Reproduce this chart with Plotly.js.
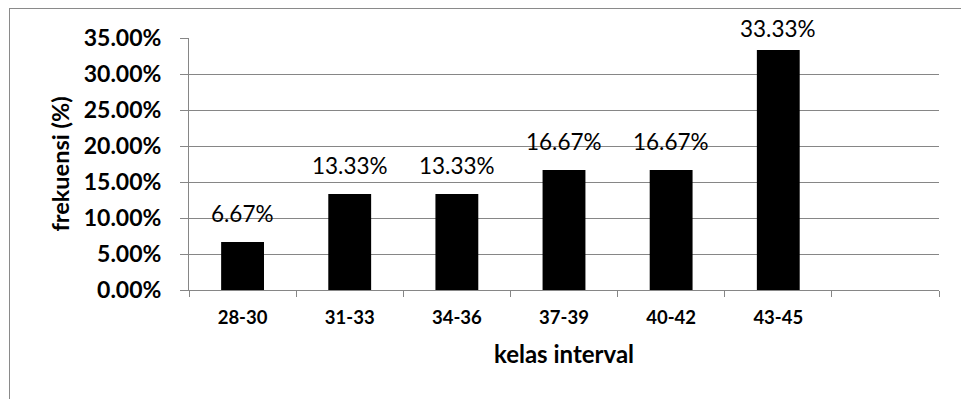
<!DOCTYPE html>
<html>
<head>
<meta charset="utf-8">
<script src="https://cdn.plot.ly/plotly-3.0.1.min.js"></script>
<style>
  html, body { margin: 0; padding: 0; background: #ffffff; overflow: hidden; }
  #wrap { position: relative; width: 961px; height: 399px; overflow: hidden; }
  #chart { position: absolute; left: 0; top: 0; width: 961px; height: 399px; }
  /* chart-area frame, running off the right and bottom edges */
  #frame { position: absolute; left: 9px; top: 8px; width: 1100px; height: 600px;
           border: 1px solid #8a8a8a; pointer-events: none; }
</style>
</head>
<body>
<div id="wrap">
  <div id="chart"></div>
  <div id="frame"></div>
</div>
<script>
// class intervals; the trailing blank slot stays empty on the axis
const categories = ['28-30', '31-33', '34-36', '37-39', '40-42', '43-45', ' '];
// relative frequency of each class (fraction)
const frequency = [0.0667, 0.1333, 0.1333, 0.1667, 0.1667, 0.3333, null];
const labels = ['6.67%', '13.33%', '13.33%', '16.67%', '16.67%', '33.33%', ''];

const yTop = 0.35;
const plotTopPx = 38, plotBottomPx = 290;
const pxPerUnit = (plotBottomPx - plotTopPx) / yTop;

const annotations = [];
categories.forEach((c, i) => {
  const v = frequency[i];
  if (v === null) return;
  // keep the label inside the chart frame when the bar is tall
  const room = (yTop - v) * pxPerUnit + plotTopPx - 40;
  const shift = Math.min(17, room);
  annotations.push({
    x: c, y: v, xref: 'x', yref: 'y',
    text: labels[i], showarrow: false,
    yanchor: 'bottom', yshift: shift - 4,
    font: { family: 'Lato, sans-serif', size: 22.5, color: '#000000' }
  });
});

const trace = {
  type: 'bar',
  x: categories,
  y: frequency,
  marker: { color: '#000000', line: { width: 0 } },
  hoverinfo: 'skip'
};

const layout = {
  width: 961, height: 399,
  margin: { l: 189, r: 22, t: 38, b: 109 },
  paper_bgcolor: '#ffffff', plot_bgcolor: '#ffffff',
  showlegend: false,
  bargap: 0.6,
  font: { family: 'Lato, sans-serif', color: '#000000' },
  xaxis: {
    type: 'category',
    range: [-0.5, 6.5],
    tickson: 'boundaries',
    ticks: 'outside', ticklen: 6, tickcolor: '#868686', tickwidth: 1,
    showline: true, linecolor: '#868686', linewidth: 1,
    showgrid: false, zeroline: false,
    ticklabelstandoff: 11,
    tickfont: { family: 'Lato, sans-serif', size: 18.5, color: '#000000', weight: 'bold' },
    title: { text: 'kelas interval', standoff: 18,
             font: { family: 'Lato, sans-serif', size: 24, color: '#000000', weight: 'bold' } }
  },
  yaxis: {
    range: [0, yTop],
    dtick: 0.05, tick0: 0,
    tickformat: '.2%',
    ticks: 'outside', ticklen: 8, tickcolor: '#868686', tickwidth: 1,
    showline: true, linecolor: '#868686', linewidth: 1,
    showgrid: true, gridcolor: '#868686', gridwidth: 1,
    zeroline: false,
    ticklabelstandoff: 14,
    tickfont: { family: 'Lato, sans-serif', size: 23, color: '#000000', weight: 'bold' },
    title: { text: 'frekuensi (%)', standoff: 7,
             font: { family: 'Lato, sans-serif', size: 23.5, color: '#000000', weight: 'bold' } }
  },
  annotations: annotations
};

Plotly.newPlot('chart', [trace], layout, { staticPlot: true, displayModeBar: false });
</script>
</body>
</html>
